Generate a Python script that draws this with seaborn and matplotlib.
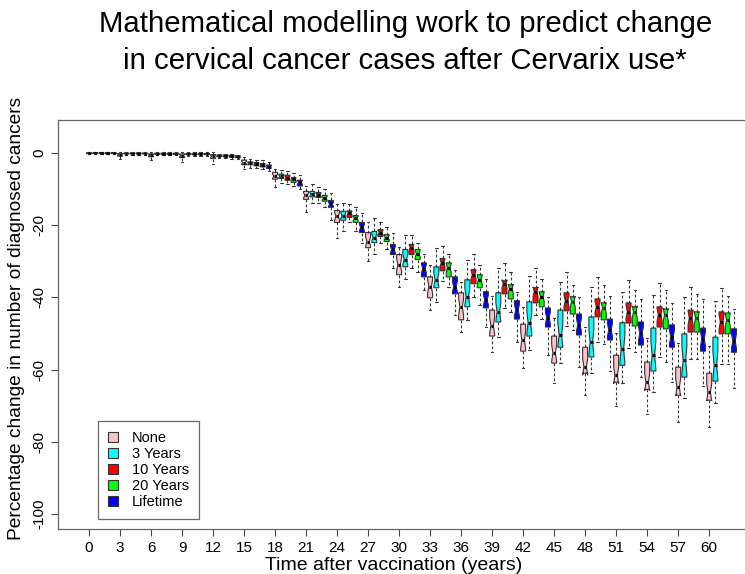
import numpy as np
import pandas as pd
import matplotlib
matplotlib.use("Agg")
import matplotlib.pyplot as plt
import seaborn as sns
from matplotlib.patches import Patch

years = list(range(0, 61, 3))
scenarios = ["None", "3 Years", "10 Years", "20 Years", "Lifetime"]
colors = ["#FFC0CB", "#00FFFF", "#FF0000", "#00FF00", "#0000FF"]

# (lower whisker, lower hinge, median, upper hinge, upper whisker) per year
none_stats = [
    (-0.3, -0.1, 0.0, 0.1, 0.3), (-1.5, -0.8, -0.4, -0.1, 0.2), (-2.0, -1.0, -0.6, -0.2, 0.3),
    (-2.5, -1.2, -0.7, -0.2, 0.3), (-3.0, -1.5, -0.9, -0.4, 0.2), (-4.5, -3.2, -2.6, -1.9, -1.0),
    (-9.5, -7.2, -6.4, -5.3, -4.5), (-16.2, -12.8, -11.7, -10.6, -9.2), (-23.4, -19.2, -17.5, -15.9, -14.2),
    (-30.0, -26.2, -24.5, -22.0, -19.0), (-37.0, -33.7, -30.9, -28.1, -25.9), (-43.5, -40.1, -37.0, -34.3, -31.0),
    (-49.6, -46.2, -42.6, -38.7, -35.7), (-55.0, -50.7, -47.8, -43.5, -39.5), (-59.6, -54.9, -51.8, -47.4, -42.6),
    (-63.8, -58.2, -55.4, -50.7, -45.7), (-67.1, -61.0, -59.3, -53.8, -48.2), (-70.0, -63.5, -61.6, -56.0, -49.9),
    (-72.4, -65.5, -63.5, -57.9, -51.3), (-74.4, -67.1, -64.9, -59.3, -52.6), (-76.0, -68.5, -66.3, -61.0, -53.5),
]
y3_stats = [
    (-0.3, -0.1, 0.0, 0.1, 0.3), (-0.5, -0.2, -0.1, 0.05, 0.2), (-0.6, -0.3, -0.2, 0.0, 0.2),
    (-0.7, -0.4, -0.2, -0.05, 0.2), (-1.4, -1.0, -0.7, -0.5, -0.2), (-4.0, -3.2, -2.8, -2.4, -1.5),
    (-8.2, -7.0, -6.4, -5.8, -4.8), (-13.7, -12.1, -11.4, -10.6, -8.6), (-21.7, -18.6, -17.3, -16.1, -13.9),
    (-28.0, -24.8, -23.4, -21.7, -18.0), (-35.0, -31.5, -29.5, -26.7, -22.6), (-41.2, -37.3, -35.1, -31.5, -26.2),
    (-46.2, -42.6, -39.8, -35.1, -29.5), (-51.0, -46.8, -44.0, -38.7, -31.8), (-54.6, -50.7, -47.0, -41.2, -34.0),
    (-58.2, -53.8, -50.4, -43.5, -35.7), (-61.0, -56.5, -52.4, -45.4, -37.0), (-63.8, -58.8, -54.3, -47.0, -38.4),
    (-66.3, -60.4, -56.0, -48.5, -39.3), (-68.0, -62.1, -57.4, -50.1, -40.0), (-69.4, -63.2, -58.8, -51.0, -41.0),
]
y10_stats = [
    (-0.3, -0.1, 0.0, 0.1, 0.3), (-0.5, -0.2, -0.1, 0.05, 0.2), (-0.6, -0.3, -0.2, 0.0, 0.2),
    (-0.7, -0.4, -0.2, -0.05, 0.2), (-1.4, -1.0, -0.8, -0.5, -0.2), (-4.2, -3.5, -3.0, -2.6, -1.8),
    (-8.5, -7.5, -6.8, -6.1, -5.0), (-13.8, -12.3, -11.6, -10.9, -9.5), (-19.2, -17.8, -16.6, -16.0, -14.2),
    (-25.0, -23.1, -22.0, -21.2, -19.0), (-31.8, -28.1, -26.2, -25.3, -22.6), (-35.4, -32.6, -30.4, -29.2, -25.6),
    (-40.0, -36.2, -33.7, -32.3, -28.0), (-43.0, -39.0, -36.2, -35.4, -30.4), (-45.0, -41.5, -38.4, -37.3, -31.8),
    (-48.0, -43.7, -40.9, -38.7, -33.0), (-52.4, -45.4, -42.6, -40.4, -34.3), (-54.0, -47.1, -44.0, -41.5, -35.2),
    (-56.5, -48.2, -44.8, -42.6, -36.0), (-57.0, -49.6, -45.7, -43.5, -37.0), (-58.5, -50.1, -46.8, -44.0, -37.5),
]
y20_stats = [
    (-0.3, -0.1, 0.0, 0.1, 0.3), (-0.5, -0.2, -0.1, 0.05, 0.2), (-0.6, -0.3, -0.2, 0.0, 0.2),
    (-0.7, -0.4, -0.2, -0.05, 0.2), (-1.5, -1.1, -0.9, -0.6, -0.3), (-4.5, -3.8, -3.3, -2.9, -2.0),
    (-9.0, -8.1, -7.2, -6.8, -5.5), (-15.0, -13.3, -12.5, -11.7, -10.0), (-21.5, -19.2, -18.1, -17.3, -15.0),
    (-26.5, -24.5, -23.4, -22.6, -20.5), (-33.0, -29.5, -27.9, -26.7, -25.0), (-37.0, -34.3, -31.8, -30.4, -28.0),
    (-42.0, -37.3, -35.1, -33.7, -31.0), (-44.0, -40.4, -37.6, -36.5, -33.0), (-46.0, -42.6, -39.8, -38.4, -35.0),
    (-49.0, -44.6, -41.2, -39.8, -36.5), (-53.0, -46.2, -42.9, -41.5, -36.5), (-55.0, -47.9, -44.0, -42.6, -38.0),
    (-58.0, -48.7, -44.8, -43.2, -38.0), (-57.0, -49.6, -45.7, -44.0, -39.0), (-58.5, -50.1, -46.2, -44.3, -39.6),
]
life_stats = [
    (-0.3, -0.1, 0.0, 0.1, 0.3), (-0.5, -0.2, -0.1, 0.05, 0.2), (-0.6, -0.3, -0.2, 0.0, 0.2),
    (-0.7, -0.4, -0.2, -0.05, 0.2), (-1.6, -1.2, -1.0, -0.7, -0.4), (-5.0, -4.2, -3.8, -3.3, -2.5),
    (-10.0, -9.1, -8.1, -7.5, -6.0), (-18.4, -15.0, -14.2, -13.1, -11.0), (-24.8, -22.0, -20.6, -19.2, -16.5),
    (-31.8, -28.1, -26.7, -25.3, -22.0), (-37.9, -34.3, -32.0, -30.4, -28.0), (-44.8, -39.0, -37.0, -34.3, -32.3),
    (-48.2, -42.9, -40.7, -38.4, -34.8), (-52.4, -46.0, -43.5, -40.9, -38.4), (-56.0, -48.2, -45.7, -42.9, -40.0),
    (-59.3, -50.4, -47.6, -44.6, -40.0), (-60.4, -51.8, -49.0, -46.0, -39.6), (-62.0, -53.2, -49.9, -46.8, -40.4),
    (-63.5, -53.8, -51.0, -47.6, -41.5), (-64.6, -54.9, -51.5, -48.5, -40.4), (-65.0, -55.2, -52.1, -48.7, -43.2),
]
all_stats = [none_stats, y3_stats, y10_stats, y20_stats, life_stats]

rows = []
for scen, stats in zip(scenarios, all_stats):
    for yr, st in zip(years, stats):
        for v in np.repeat(st, 5):
            rows.append({"year": yr, "scenario": scen, "value": v})
df = pd.DataFrame(rows)

sns.set_style("ticks")
plt.rcParams["font.family"] = ["Liberation Sans", "DejaVu Sans"]
plt.rcParams["text.color"] = "black"
plt.rcParams["axes.labelcolor"] = "black"
plt.rcParams["xtick.color"] = "black"
plt.rcParams["ytick.color"] = "black"

fig = plt.figure(figsize=(7.45, 5.74), dpi=100)
W, H = 745, 574
ax_left, ax_right, ax_top, ax_bottom = 58, 765, 120, 529
ax = fig.add_axes([ax_left / W, (H - ax_bottom) / H, (ax_right - ax_left) / W, (ax_bottom - ax_top) / H])

sns.boxplot(
    data=df, x="year", y="value", hue="scenario", order=years, hue_order=scenarios,
    palette=colors, saturation=1, dodge=True, width=1.0, gap=0.2, whis=(0, 100),
    linecolor="#333333", linewidth=0.8, notch=True, showfliers=False,
    whiskerprops={"linestyle": (0, (2.5, 2))},
    medianprops={"color": "black", "linewidth": 2.2},
    legend=False, ax=ax,
)

ax.set_xlim(-1.4, 21.4)
ax.set_ylim(-104.2, 9.2)
ax.set_xticks([i - 0.4 for i in range(len(years))])
ax.set_xticklabels([str(y) for y in years], fontsize=11)
ax.set_yticks([0, -20, -40, -60, -80, -100])
ax.set_yticklabels(["0", "-20", "-40", "-60", "-80", "-100"], fontsize=11, rotation=90, va="center")
ax.tick_params(direction="out", length=5, color="#444444", width=0.8, labelcolor="black")
for s in ax.spines.values():
    s.set_visible(True)
    s.set_color("#666666")
    s.set_linewidth(0.9)

ax.set_xlabel("Time after vaccination (years)", fontsize=14)
ax.set_ylabel("Percentage change in number of diagnosed cancers", fontsize=13.8)
ax.xaxis.set_label_coords((394 - ax_left) / (ax_right - ax_left), -(565.5 - ax_bottom) / (ax_bottom - ax_top), transform=ax.transAxes)
ax.xaxis.label.set_va("center")
ax.yaxis.set_label_coords(-(ax_left - 17) / (ax_right - ax_left), (ax_bottom - 318) / (ax_bottom - ax_top), transform=ax.transAxes)
ax.yaxis.label.set_va("center")

handles = [Patch(facecolor=c, edgecolor="#333333", linewidth=0.8) for c in colors]
leg = ax.legend(handles, scenarios, loc="lower left",
                bbox_to_anchor=((98 - ax_left) / (ax_right - ax_left), (ax_bottom - 519) / (ax_bottom - ax_top)),
                frameon=True, fancybox=False, edgecolor="#444444", fontsize=10.5,
                handlelength=0.7, handleheight=0.7, handletextpad=0.9, borderpad=0.7,
                labelspacing=0.13, borderaxespad=0)
leg.get_frame().set_linewidth(0.9)

fig.text(0.544, 0.982, "Mathematical modelling work to predict change\nin cervical cancer cases after Cervarix use*",
         ha="center", va="top", fontsize=21.2, linespacing=1.4, color="black")

fig.savefig("out.png", dpi=100)
